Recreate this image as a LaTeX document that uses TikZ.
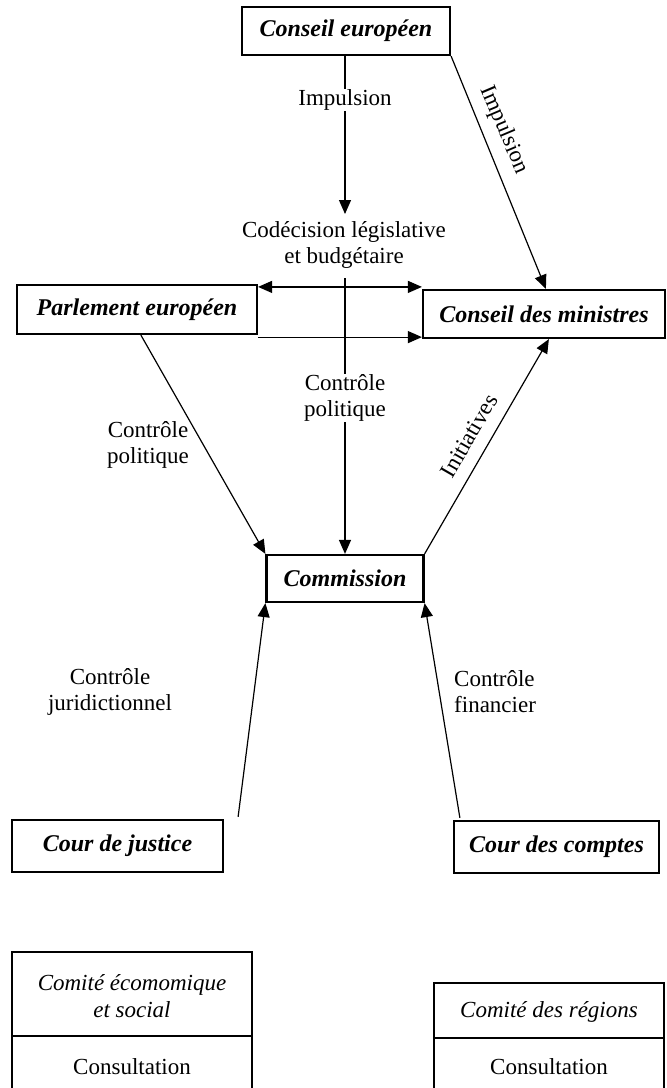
\documentclass[tikz,border=0pt]{standalone}
\usepackage{fontspec}
\setmainfont{Liberation Serif}
\usetikzlibrary{arrows.meta,calc}
\begin{document}
\begin{tikzpicture}[x=1pt,y=-1pt,
  box/.style={draw,line width=2.2pt,inner sep=0pt,font=\fontsize{24}{28}\selectfont\bfseries\itshape},
  lab/.style={font=\fontsize{23}{26}\selectfont,inner sep=1pt,align=center},
  ital/.style={font=\fontsize{23}{27}\selectfont\itshape,inner sep=1pt,align=center},
  arr/.style={line width=1.2pt,-{Triangle[length=14pt,width=12pt]}},
  dbl/.style={line width=1.2pt,{Triangle[length=14pt,width=12pt]}-{Triangle[length=14pt,width=12pt]}},
  frame/.style={line width=1.8pt}]
\useasboundingbox (0,0) rectangle (667,1088);

% main boxes
\node[box,minimum width=208pt,minimum height=48pt] (ce) at (346,31) {Conseil européen};
\node[box,minimum width=240pt,minimum height=49pt] (pe) at (137,309.5) {Parlement européen};
\node[box,minimum width=242pt,minimum height=48pt] (cm) at (544,314) {Conseil des ministres};
\node[box,minimum width=157pt,minimum height=47pt] (co) at (345,578.5) {Commission};
\node[box,minimum width=211pt,minimum height=52pt] (cj) at (117.5,846) {Cour de justice};
\node[box,minimum width=205pt,minimum height=52pt] (cc) at (556.5,847) {Cour des comptes};

% Impulsion (vertical)
\coordinate (imp) at (345,214);
\draw[arr] (ce.south -| imp) -- (imp);
\node[lab,fill=white] (impl) at (345,100) {Impulsion};

% Codécision
\node[lab] (cod) at (344,245) {Codécision législative\\et budgétaire};
\draw[dbl] ($(pe.north east)+(0,3)$) -- ($(cm.north west)+(0,-2)$);
\draw[arr] ($(pe.south east)+(0,2)$) -- ($(cm.south west)+(0,-2)$);

% Contrôle politique (middle)
\coordinate (vt) at (345,278);
\draw[arr] (vt) -- (co.north);
\node[lab,fill=white] (cpm) at (345,398) {Contrôle\\politique};

% Impulsion (diagonal)
\draw[arr] (ce.south east) -- ($(cm.north west)+(124,0)$);
\node[lab,rotate=-67] (impd) at (504,130) {Impulsion};

% Contrôle politique (left)
\draw[arr] ($(pe.south west)+(125,0)$) -- (co.north west);
\node[lab] (cpl) at (148,445) {Contrôle\\politique};

% Initiatives
\draw[arr] (co.north east) -- ($(cm.south west)+(127,0)$);
\node[lab,rotate=60] (ini) at (469,436) {Initiatives};

% Cours
\draw[arr] ($(cj.north east)+(14,-2)$) -- (co.south west);
\draw[arr] ($(cc.north west)+(7,-2)$) -- (co.south east);
\node[lab] (cjl) at (110,692) {Contrôle\\juridictionnel};
\node[lab,anchor=west,align=left] (cfl) at (453,692) {Contrôle\\financier};

% Comités
\draw[frame] (12,1092) -- (12,952) -- (252,952) -- (252,1092);
\draw[line width=1.3pt] (12,1036) -- (252,1036);
\node[ital] (ces) at (132,996) {Comité écomomique\\et social};
\node[lab] (cons1) at (132,1067) {Consultation};

\draw[frame] (434,1092) -- (434,983) -- (664,983) -- (664,1092);
\draw[line width=1.3pt] (434,1038) -- (664,1038);
\node[ital] (cdr) at (549,1012) {Comité des régions};
\node[lab] (cons2) at (549,1067) {Consultation};
\end{tikzpicture}
\end{document}
